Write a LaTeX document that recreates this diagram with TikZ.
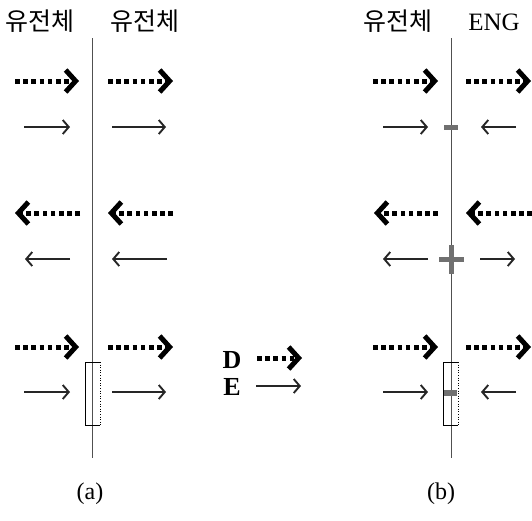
\documentclass[tikz,border=0pt]{standalone}
\usepackage{fontspec}
\setmainfont{Liberation Serif}
\newfontfamily\kr{Noto Sans CJK KR}
\usetikzlibrary{arrows.meta}
\definecolor{mark}{HTML}{707070}
\definecolor{wall}{HTML}{505050}
\tikzset{
  fieldD/.style={line width=5pt, dash pattern=on 4.6pt off 3.6pt,
    -{Straight Barb[length=10pt,width=22pt,line width=5pt]}},
  fieldE/.style={draw=black!85, line width=1.9pt,
    -{Straight Barb[length=6pt,width=14pt,line width=1.9pt]}},
  iface/.style={draw=wall, line width=0.9pt},
  krlabel/.style={font=\kr\fontsize{25}{28}\selectfont, inner sep=0pt},
  captext/.style={font=\fontsize{24}{27}\selectfont, inner sep=0pt},
  legend/.style={font=\bfseries\fontsize{26}{28}\selectfont, inner sep=0pt},
  charge/.style={fill=mark, draw=none},
}
\begin{document}
\begin{tikzpicture}[x=1pt, y=-1pt]
\useasboundingbox (0,0) rectangle (532,520);

% titles
\node[krlabel] (ta1) at (40,21) {유전체};
\node[krlabel] (ta2) at (145,21) {유전체};
\node[krlabel] (tb1) at (398,21) {유전체};
\node[font=\fontsize{25}{28}\selectfont, inner sep=0pt] (tb2) at (494,22) {ENG};

% interfaces
\coordinate (atop) at (92,38);  \coordinate (abot) at (92,458);
\coordinate (btop) at (451,38); \coordinate (bbot) at (451,458);
\draw[iface] (atop) -- (abot);
\draw[iface] (btop) -- (bbot);

% ---------- panel (a)
% row 1
\coordinate (a1l0) at (15,81);  \coordinate (a1l1) at (79,81);
\coordinate (a1r0) at (108,81); \coordinate (a1r1) at (173,81);
\coordinate (a1L0) at (24,127); \coordinate (a1L1) at (70,127);
\coordinate (a1R0) at (112,127);\coordinate (a1R1) at (166,127);
\draw[fieldD] (a1l0) -- (a1l1);
\draw[fieldD] (a1r0) -- (a1r1);
\draw[fieldE] (a1L0) -- (a1L1);
\draw[fieldE] (a1R0) -- (a1R1);
% row 2
\coordinate (a2l0) at (80,213);  \coordinate (a2l1) at (15,213);
\coordinate (a2r0) at (173,213); \coordinate (a2r1) at (108,213);
\coordinate (a2L0) at (70,259);  \coordinate (a2L1) at (25,259);
\coordinate (a2R0) at (167,259); \coordinate (a2R1) at (112,259);
\draw[fieldD] (a2l0) -- (a2l1);
\draw[fieldD] (a2r0) -- (a2r1);
\draw[fieldE] (a2L0) -- (a2L1);
\draw[fieldE] (a2R0) -- (a2R1);
% row 3
\coordinate (a3l0) at (15,347);  \coordinate (a3l1) at (79,347);
\coordinate (a3r0) at (108,347); \coordinate (a3r1) at (173,347);
\coordinate (a3L0) at (24,392);  \coordinate (a3L1) at (70,392);
\coordinate (a3R0) at (112,392); \coordinate (a3R1) at (166,392);
\draw[fieldD] (a3l0) -- (a3l1);
\draw[fieldD] (a3r0) -- (a3r1);
\draw[fieldE] (a3L0) -- (a3L1);
\draw[fieldE] (a3R0) -- (a3R1);
% pillbox
\draw[line width=0.6pt] (100,362) -- (85,362) -- (85,425) -- (100,425);
\draw[line width=0.6pt, dotted] (100,362) -- (100,425);

% ---------- panel (b)
% row 1
\coordinate (b1l0) at (373,81);  \coordinate (b1l1) at (438,81);
\coordinate (b1r0) at (466,81);  \coordinate (b1r1) at (531,81);
\coordinate (b1L0) at (383,127); \coordinate (b1L1) at (428,127);
\coordinate (b1R0) at (516,127); \coordinate (b1R1) at (481,127);
\draw[fieldD] (b1l0) -- (b1l1);
\draw[fieldD] (b1r0) -- (b1r1);
\draw[fieldE] (b1L0) -- (b1L1);
\draw[fieldE] (b1R0) -- (b1R1);
\fill[charge] (444,124.5) rectangle (458,129.5);
% row 2
\coordinate (b2l0) at (438,213); \coordinate (b2l1) at (374,213);
\coordinate (b2r0) at (532,213); \coordinate (b2r1) at (466,213);
\coordinate (b2L0) at (428,259); \coordinate (b2L1) at (383,259);
\coordinate (b2R0) at (480,259); \coordinate (b2R1) at (515,259);
\draw[fieldD] (b2l0) -- (b2l1);
\draw[fieldD] (b2r0) -- (b2r1);
\draw[fieldE] (b2L0) -- (b2L1);
\draw[fieldE] (b2R0) -- (b2R1);
\fill[charge] (439,256.5) rectangle (464,261.5);
\fill[charge] (448.5,245) rectangle (453.5,274);
% row 3
\coordinate (b3l0) at (373,347); \coordinate (b3l1) at (438,347);
\coordinate (b3r0) at (466,347); \coordinate (b3r1) at (531,347);
\coordinate (b3L0) at (383,392); \coordinate (b3L1) at (428,392);
\coordinate (b3R0) at (516,392); \coordinate (b3R1) at (481,392);
\draw[fieldD] (b3l0) -- (b3l1);
\draw[fieldD] (b3r0) -- (b3r1);
\draw[fieldE] (b3L0) -- (b3L1);
\draw[fieldE] (b3R0) -- (b3R1);
\draw[line width=0.6pt] (458,362) -- (443,362) -- (443,425) -- (458,425);
\draw[line width=0.6pt, dotted] (458,362) -- (458,425);
\fill[charge] (444,389.5) rectangle (457,395.5);

% ---------- legend
\node[legend] (lgD) at (232,360) {D};
\node[legend] (lgE) at (232,387) {E};
\coordinate (lgD0) at (257,358); \coordinate (lgD1) at (302,358);
\coordinate (lgE0) at (256,386); \coordinate (lgE1) at (301,386);
\draw[fieldD] (lgD0) -- (lgD1);
\draw[fieldE] (lgE0) -- (lgE1);

% captions
\node[captext] (capa) at (90,494) {(a)};
\node[captext] (capb) at (441,494) {(b)};
\end{tikzpicture}
\end{document}
